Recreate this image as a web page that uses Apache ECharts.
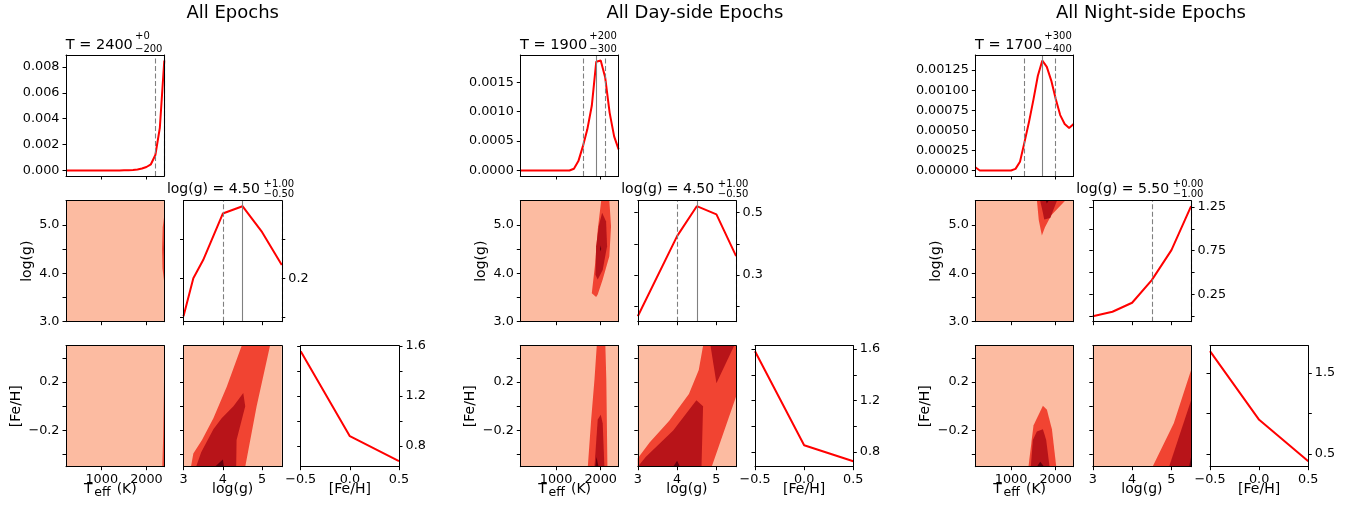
<!DOCTYPE html>
<html>
<head>
<meta charset="utf-8">
<script src="https://cdn.jsdelivr.net/npm/echarts@6/dist/echarts.min.js"></script>
<style>
html, body { margin: 0; padding: 0; background: #fff; }
#main { width: 1361px; height: 508px; }
</style>
</head>
<body>
<div id="main"></div>
<script>
var FONT = 'DejaVu Sans';

// ---- data ----
var cornerTitles = ['All Epochs', 'All Day-side Epochs', 'All Night-side Epochs'];

// marginal of Teff, on the model grid (K)
var tempGrid = [200, 300, 400, 500, 600, 700, 800, 900, 1000, 1100, 1200, 1300, 1400, 1500, 1600, 1700, 1800, 1900, 2000, 2100, 2200, 2300, 2400];
var pTempAll = [0, 0, 0, 0, 0, 0, 0, 0, 0, 0, 0, 0, 0, 0.00001, 0.00002, 0.00004, 0.00008, 0.00015, 0.00027, 0.00048, 0.0012, 0.0033, 0.0085];
var pTempDay = [0, 0, 0, 0, 0, 0, 0, 0, 0, 0, 0, 0, 0.00003, 0.00016, 0.00041, 0.0007, 0.0011, 0.00185, 0.00187, 0.00158, 0.00098, 0.00058, 0.00036];
var pTempNight = [0.00004, 0, 0, 0, 0, 0, 0, 0, 0, 0.00002, 0.00011, 0.00035, 0.0006, 0.00088, 0.00118, 0.00137, 0.00129, 0.00112, 0.00089, 0.00069, 0.00058, 0.00053, 0.00058];

// marginal of log(g)
var loggAll = [3, 3.25, 3.5, 4, 4.5, 5, 5.5];
var pLoggAll = [0.102, 0.2, 0.247, 0.367, 0.386, 0.319, 0.234];
var loggDay = [3, 4, 4.5, 5, 5.5];
var pLoggDay = [0.168, 0.425, 0.521, 0.495, 0.361];
var loggNight = [3, 3.5, 4, 4.5, 5, 5.5];
var pLoggNight = [0.0, 0.051, 0.154, 0.413, 0.756, 1.258];

// marginal of [Fe/H]
var fehGrid = [-0.5, 0, 0.5];
var pFehAll = [1.558, 0.88, 0.68];
var pFehDay = [1.584, 0.852, 0.728];
var pFehNight = [1.772, 0.921, 0.408];

// lower / median / upper
var tempLines = [[2200, 2400, 2400], [1600, 1900, 2100], [1300, 1700, 2000]];
var loggLines = [[4.0, 4.5, 5.5], [4.0, 4.5, 5.5], [4.5, 5.5, 5.5]];
var tempTitle = [['T = 2400', '+0', '\u2212200'], ['T = 1900', '+200', '\u2212300'], ['T = 1700', '+300', '\u2212400']];
var loggTitle = [['log(g) = 4.50', '+1.00', '\u22120.50'], ['log(g) = 4.50', '+1.00', '\u22120.50'], ['log(g) = 5.50', '+0.00', '\u22121.00']];

// tick values
var tempTicks = [1000, 2000];
var loggTicksX = [3, 4, 5];
var loggTicksY = [3, 3.5, 4, 4.5, 5];
var loggLabelsY = [3, 4, 5];
var fehTicksX = [-0.5, 0, 0.5];
var fehTicksY = [-0.4, -0.2, 0, 0.2, 0.4];
var fehLabelsY = [-0.2, 0.2];
var densTicks = [[0, 0.002, 0.004, 0.006, 0.008], [0, 0.0005, 0.001, 0.0015], [0, 0.00025, 0.0005, 0.00075, 0.001, 0.00125]];
var densDec = [3, 4, 5];
var loggPTicks = [[0.1, 0.2, 0.3], [0.2, 0.3, 0.4, 0.5], [0, 0.25, 0.5, 0.75, 1, 1.25]];
var loggPLabels = [[0.2], [0.3, 0.5], [0.25, 0.75, 1.25]];
var loggPDec = [1, 1, 2];
var fehPTicks = [[0.8, 1, 1.2, 1.4, 1.6], [0.8, 1, 1.2, 1.4, 1.6], [0.5, 1, 1.5]];
var fehPLabels = [[0.8, 1.2, 1.6], [0.8, 1.2, 1.6], [0.5, 1.5]];

// filled contours: [mid, dark, darkest] polygons in data coords
var contTempLogg = [
  [[[2400, 5.2], [2365, 4.95], [2350, 4.5], [2360, 4.1], [2400, 3.8]]],
  [[[2400, 4.8], [2385, 4.5], [2400, 4.25]]],
  []
];
var contTempFeh = [
  [[[2400, 0.45], [2390, 0.1], [2375, -0.25], [2355, -0.5], [2400, -0.5]]],
  [],
  []
];
var contLoggFeh = [
  [[[3.19, -0.5], [3.25, -0.39], [3.47, -0.28], [3.76, -0.1], [4.1, 0.16], [4.48, 0.5], [5.2, 0.5], [4.86, 0.0], [4.57, -0.5]]],
  [[[3.32, -0.5], [3.45, -0.38], [3.76, -0.19], [3.97, -0.1], [4.27, 0.0], [4.52, 0.11], [4.57, 0.0], [4.35, -0.28], [4.34, -0.5]]],
  [[[3.8, -0.5], [4.0, -0.44], [4.03, -0.5]]]
];
var contTempLoggDay = [
  [[[2010, 5.5], [1933, 4.9], [1876, 4.21], [1800, 3.59], [1897, 3.51], [1933, 3.56], [2044, 3.87], [2193, 4.35], [2231, 4.97], [2193, 5.5]]],
  [[[2031, 5.25], [2120, 5.07], [2142, 4.56], [2044, 4.07], [1933, 3.87], [1882, 3.97], [1897, 4.56], [1955, 4.97]]],
  [[[1985, 4.58], [2010, 4.5], [1985, 4.45]]]
];
var contTempFehDay = [
  [[[1911, 0.5], [1860, 0.22], [1786, -0.11], [1711, -0.5], [2150, -0.5], [2125, 0.22], [2104, 0.5]]],
  [[[2000, -0.07], [1933, -0.11], [1860, -0.5], [2082, -0.5], [2044, -0.14]]],
  [[[1880, -0.5], [1905, -0.42], [1950, -0.5]]]
];
var contLoggFehDay = [
  [[[3.0, -0.5], [3.0, -0.43], [3.3, -0.3], [3.8, -0.12], [4.3, 0.1], [4.55, 0.3], [4.66, 0.5], [5.5, 0.5], [5.5, 0.08], [4.88, -0.5]]],
  [[[3.0, -0.5], [3.2, -0.42], [3.9, -0.2], [4.49, 0.05], [4.66, 0.0], [4.62, -0.5]],
   [[4.85, 0.5], [5.0, 0.19], [5.45, 0.5]]],
  [[[3.9, -0.5], [4.0, -0.45], [4.07, -0.5]]]
];
var contTempLoggNight = [
  [[[1580, 5.5], [1620, 5.1], [1690, 4.78], [1760, 4.95], [1900, 5.2], [2210, 5.5]]],
  [[[1652, 5.5], [1713, 5.25], [1742, 5.11], [1877, 5.14], [2027, 5.5]]],
  [[[1780, 5.5], [1800, 5.44], [1840, 5.5]]]
];
var contTempFehNight = [
  [[[1390, -0.5], [1502, -0.16], [1713, 0.004], [1803, -0.03], [1915, -0.19], [2012, -0.5]]],
  [[[1443, -0.5], [1488, -0.28], [1578, -0.21], [1713, -0.19], [1787, -0.28], [1861, -0.5]]],
  [[[1578, -0.5], [1652, -0.46], [1742, -0.5]]]
];
var contLoggFehNight = [
  [[[4.52, -0.5], [5.06, -0.14], [5.5, 0.3], [5.5, -0.5]]],
  [[[4.94, -0.5], [5.5, 0.05], [5.5, -0.5]]],
  [[[5.45, -0.5], [5.5, -0.42], [5.5, -0.5]]]
];

var pTemp = [pTempAll, pTempDay, pTempNight];
var loggX = [loggAll, loggDay, loggNight];
var pLogg = [pLoggAll, pLoggDay, pLoggNight];
var pFeh = [pFehAll, pFehDay, pFehNight];
var contTL = [contTempLogg, contTempLoggDay, contTempLoggNight];
var contTF = [contTempFeh, contTempFehDay, contTempFehNight];
var contLF = [contLoggFeh, contLoggFehDay, contLoggFehNight];

// ---- layout ----
var W = 98.3, H = 121;
var cornerLeft = [66, 520.3, 975.3];
var colOff = [0, 117.5, 234.7];
var rowTop = [55, 200.7, 345.7];
var LIGHT = '#fcbba1';
var LEVELS = ['#f14432', '#b81419', '#67000d'];
var GREY = '#808080';

function fmt(v, dec) {
  return v.toFixed(dec).replace('-', '\u2212');
}
function padRange(arr) {
  var mn = Math.min.apply(null, arr), mx = Math.max.apply(null, arr), d = (mx - mn) * 0.05;
  return {min: mn - d, max: mx + d};
}

var grids = [], xAxes = [], yAxes = [], series = [], graphics = [];

function mkAxis(gi, pos, spec, ticks, labels) {
  var isY = pos === 'left' || pos === 'right';
  return {
    type: 'value', gridIndex: gi, position: pos, min: spec.min, max: spec.max, z: 5,
    axisLine: {show: true, onZero: false, lineStyle: {color: '#000', width: 1}},
    splitLine: {show: false},
    axisTick: {show: ticks, inside: false, length: 3.5, lineStyle: {color: '#000', width: 1}, customValues: spec.ticks},
    axisLabel: {
      show: labels, customValues: spec.labels, margin: isY ? 6.5 : 6.5,
      color: '#000', fontFamily: FONT, fontSize: 12.8,
      formatter: function (v) { return fmt(v, spec.dec); }
    }
  };
}

function addPanel(left, top, xs, ys, cfg) {
  var gi = grids.length;
  grids.push({left: left, top: top, width: W, height: H, show: !!cfg.bg, backgroundColor: cfg.bg || 'transparent',
    borderWidth: 0, containLabel: false, outerBoundsMode: 'none'});
  var xi = xAxes.length, yi = yAxes.length;
  xAxes.push(mkAxis(gi, 'bottom', xs, true, !!cfg.xLabels));
  xAxes.push(mkAxis(gi, 'top', xs, false, false));
  yAxes.push(mkAxis(gi, 'left', ys, true, !!cfg.yLeft));
  yAxes.push(mkAxis(gi, 'right', ys, !!cfg.yRight, !!cfg.yRight));
  return {x: xi, y: yi};
}

function lineSeries(ax, xs, ys, lines) {
  var s = {
    type: 'line', xAxisIndex: ax.x, yAxisIndex: ax.y,
    data: xs.map(function (x, i) { return [x, ys[i]]; }),
    symbol: 'none', showSymbol: false, z: 3,
    lineStyle: {color: '#ff0000', width: 2}, animation: false
  };
  if (lines) {
    s.markLine = {
      silent: true, symbol: ['none', 'none'], label: {show: false}, animation: false,
      lineStyle: {color: GREY, width: 1.1},
      data: [
        {xAxis: lines[0], lineStyle: {type: [5, 2.5], color: GREY}},
        {xAxis: lines[1], lineStyle: {type: 'solid', color: GREY}},
        {xAxis: lines[2], lineStyle: {type: [5, 2.5], color: GREY}}
      ]
    };
  }
  series.push(s);
}

function contourSeries(ax, levels) {
  var polys = [];
  levels.forEach(function (lv, k) {
    lv.forEach(function (pts) { polys.push({pts: pts, color: LEVELS[k]}); });
  });
  if (!polys.length) return;
  series.push({
    type: 'custom', xAxisIndex: ax.x, yAxisIndex: ax.y, coordinateSystem: 'cartesian2d',
    clip: true, silent: true, animation: false, z: 2,
    data: polys.map(function (p) { return p.pts[0]; }),
    renderItem: function (params, api) {
      var p = polys[params.dataIndex];
      return {
        type: 'polygon',
        shape: {points: p.pts.map(function (pt) { return api.coord(pt); })},
        style: {fill: p.color, stroke: null}
      };
    }
  });
}

function text(x, y, s, size, align, rot) {
  graphics.push({
    type: 'text', x: x, y: y, rotation: rot || 0, silent: true,
    style: {text: s, fill: '#000', font: size + 'px "' + FONT + '"',
      align: align, textAlign: align, verticalAlign: 'middle', textVerticalAlign: 'middle'}
  });
}

var tempSpec = {min: 200, max: 2400, ticks: tempTicks, labels: tempTicks, dec: 0};
var loggSpecX = {min: 3, max: 5.5, ticks: loggTicksX, labels: loggTicksX, dec: 0};
var loggSpecY = {min: 3, max: 5.5, ticks: loggTicksY, labels: loggLabelsY, dec: 1};
var fehSpecX = {min: -0.5, max: 0.5, ticks: fehTicksX, labels: fehTicksX, dec: 1};
var fehSpecY = {min: -0.5, max: 0.5, ticks: fehTicksY, labels: fehLabelsY, dec: 1};

for (var c = 0; c < 3; c++) {
  var L = cornerLeft[c];
  var cx = [L + colOff[0], L + colOff[1], L + colOff[2]];
  var ax;

  // Teff marginal
  var dr = padRange(pTemp[c]);
  ax = addPanel(cx[0], rowTop[0], tempSpec,
    {min: dr.min, max: dr.max, ticks: densTicks[c], labels: densTicks[c], dec: densDec[c]}, {yLeft: true});
  lineSeries(ax, tempGrid, pTemp[c], tempLines[c]);

  // Teff vs log(g)
  ax = addPanel(cx[0], rowTop[1], tempSpec, loggSpecY, {bg: LIGHT, yLeft: true});
  contourSeries(ax, contTL[c]);

  // log(g) marginal
  var gr = padRange(pLogg[c]);
  ax = addPanel(cx[1], rowTop[1], loggSpecX,
    {min: gr.min, max: gr.max, ticks: loggPTicks[c], labels: loggPLabels[c], dec: loggPDec[c]}, {yRight: true});
  lineSeries(ax, loggX[c], pLogg[c], loggLines[c]);

  // Teff vs [Fe/H]
  ax = addPanel(cx[0], rowTop[2], tempSpec, fehSpecY, {bg: LIGHT, yLeft: true, xLabels: true});
  contourSeries(ax, contTF[c]);

  // log(g) vs [Fe/H]
  ax = addPanel(cx[1], rowTop[2], loggSpecX, fehSpecY, {bg: LIGHT, xLabels: true});
  contourSeries(ax, contLF[c]);

  // [Fe/H] marginal
  var fr = padRange(pFeh[c]);
  ax = addPanel(cx[2], rowTop[2], fehSpecX,
    {min: fr.min, max: fr.max, ticks: fehPTicks[c], labels: fehPLabels[c], dec: 1}, {yRight: true, xLabels: true});
  lineSeries(ax, fehGrid, pFeh[c], null);

  // texts
  var mid0 = cx[0] + W / 2, mid1 = cx[1] + W / 2, mid2 = cx[2] + W / 2;
  text(cx[1] + W / 2 + [0, 8, 9][c], 13.5, cornerTitles[c], 18, 'center');
  text(cx[0] - 0.3, 45.2, tempTitle[c][0], 14.5, 'left');
  text(cx[0] + 69, 36.5, tempTitle[c][1], 10, 'left');
  text(cx[0] + 69, 49.5, tempTitle[c][2], 10, 'left');
  text(cx[1] - 16.6, 189.5, loggTitle[c][0], 14, 'left');
  text(cx[1] + 80, 184.5, loggTitle[c][1], 10, 'left');
  text(cx[1] + 80, 194, loggTitle[c][2], 10, 'left');
  text(cx[0] - 38.5, rowTop[1] + H / 2, 'log(g)', 14, 'center', Math.PI / 2);
  text(cx[0] - 50, rowTop[2] + H / 2, '[Fe/H]', 14, 'center', Math.PI / 2);
  text(mid0 - 31.2, 489.5, 'T', 14, 'left');
  text(mid0 - 20.9, 493, 'eff', 12.5, 'left');
  text(mid0 + 1.5, 489.5, '(K)', 14, 'left');
  text(mid1, 489.7, 'log(g)', 14, 'center');
  text(mid2, 489.7, '[Fe/H]', 14, 'center');
}

var chart = echarts.init(document.getElementById('main'));
chart.setOption({
  animation: false,
  backgroundColor: '#fff',
  textStyle: {fontFamily: FONT},
  grid: grids,
  xAxis: xAxes,
  yAxis: yAxes,
  series: series,
  graphic: graphics
});
</script>
</body>
</html>
